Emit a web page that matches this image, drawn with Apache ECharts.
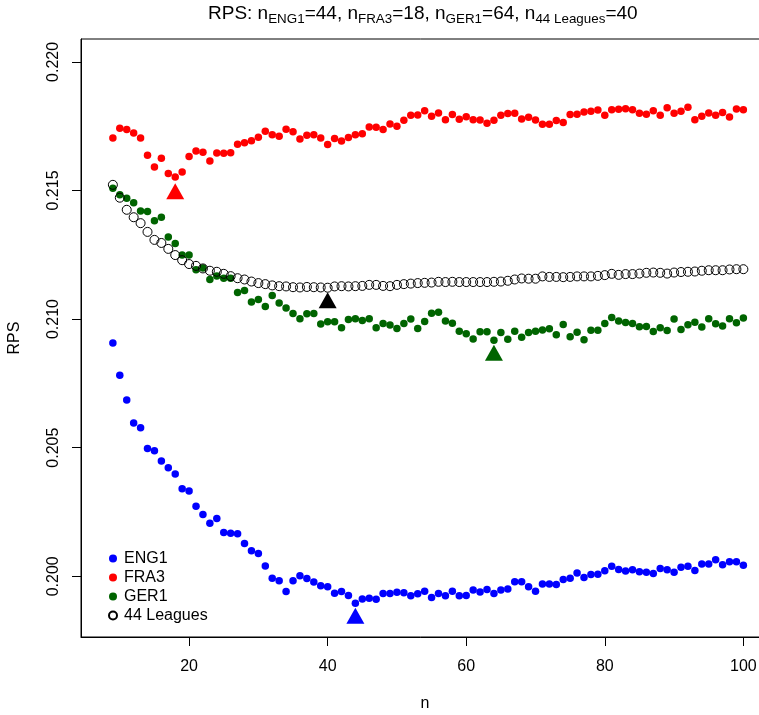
<!DOCTYPE html>
<html>
<head>
<meta charset="utf-8">
<script src="https://cdn.jsdelivr.net/npm/echarts@6/dist/echarts.min.js"></script>
<style>
  html, body { margin: 0; padding: 0; background: #fff; }
  #container { width: 759px; height: 715px; }
</style>
</head>
<body>
<div id="container"></div>
<script>
/* sample sizes n */
var nValues = [9,10,11,12,13,14,15,16,17,18,19,20,21,22,23,24,25,26,27,28,29,30,
  31,32,33,34,35,36,37,38,39,40,41,42,43,44,45,46,47,48,49,50,51,52,53,54,55,56,57,58,59,60,
  61,62,63,64,65,66,67,68,69,70,71,72,73,74,75,76,77,78,79,80,81,82,83,84,85,86,87,88,89,90,
  91,92,93,94,95,96,97,98,99,100];

var eng1 = [
  0.20907,0.20782,0.20685,0.20596,0.20578,0.20497,0.20488,0.20448,0.20422,0.20398,
  0.20340,0.20332,0.20272,0.20240,0.20206,0.20225,0.20170,0.20167,0.20165,0.20128,
  0.20099,0.20089,0.20040,0.19992,0.19983,0.19941,0.19983,0.20002,0.19991,0.19978,
  0.19963,0.19959,0.19934,0.19941,0.19925,0.19895,0.19912,0.19915,0.19911,0.19933,
  0.19933,0.19938,0.19936,0.19924,0.19932,0.19942,0.19918,0.19933,0.19924,0.19942,
  0.19924,0.19925,0.19947,0.19939,0.19949,0.19933,0.19947,0.19951,0.19979,0.19979,
  0.19959,0.19942,0.19970,0.19970,0.19968,0.19988,0.19992,0.20013,0.19995,0.20007,
  0.20008,0.20022,0.20039,0.20026,0.20021,0.20025,0.20018,0.20016,0.20011,0.20030,
  0.20025,0.20016,0.20035,0.20039,0.20023,0.20048,0.20048,0.20064,0.20045,0.20057,
  0.20057,0.20043];

var fra3 = [
  0.21704,0.21742,0.21737,0.21724,0.21704,0.21637,0.21591,0.21625,0.21566,0.21552,
  0.21572,0.21632,0.21654,0.21649,0.21615,0.21646,0.21645,0.21647,0.21680,0.21686,
  0.21693,0.21707,0.21730,0.21717,0.21711,0.21738,0.21728,0.21700,0.21715,0.21717,
  0.21704,0.21679,0.21702,0.21692,0.21706,0.21717,0.21721,0.21747,0.21746,0.21737,
  0.21759,0.21750,0.21773,0.21793,0.21794,0.21810,0.21789,0.21801,0.21775,0.21795,
  0.21777,0.21787,0.21775,0.21774,0.21761,0.21773,0.21793,0.21799,0.21800,0.21778,
  0.21785,0.21774,0.21758,0.21758,0.21772,0.21764,0.21795,0.21796,0.21805,0.21808,
  0.21813,0.21793,0.21814,0.21816,0.21818,0.21814,0.21800,0.21796,0.21810,0.21793,
  0.21822,0.21800,0.21808,0.21824,0.21775,0.21789,0.21801,0.21793,0.21803,0.21786,
  0.21817,0.21814];

var ger1 = [
  0.21509,0.21483,0.21470,0.21452,0.21420,0.21418,0.21382,0.21396,0.21319,0.21294,
  0.21249,0.21249,0.21192,0.21199,0.21154,0.21168,0.21159,0.21159,0.21103,0.21111,
  0.21066,0.21076,0.21049,0.21092,0.21063,0.21043,0.21022,0.21001,0.21021,0.21022,
  0.20981,0.20990,0.20990,0.20966,0.20998,0.21001,0.20995,0.21001,0.20966,0.20983,
  0.20977,0.20963,0.20983,0.21000,0.20963,0.20991,0.21023,0.21027,0.20993,0.20984,
  0.20953,0.20943,0.20923,0.20951,0.20951,0.20918,0.20948,0.20922,0.20953,0.20929,
  0.20948,0.20953,0.20958,0.20962,0.20939,0.20979,0.20931,0.20949,0.20920,0.20957,
  0.20957,0.20983,0.21006,0.20993,0.20987,0.20983,0.20970,0.20971,0.20952,0.20966,
  0.20956,0.21000,0.20960,0.20978,0.20988,0.20969,0.21001,0.20982,0.20973,0.21001,
  0.20986,0.21004];

var leagues44 = [
  0.21522,0.21472,0.21425,0.21396,0.21373,0.21339,0.21308,0.21296,0.21273,0.21249,
  0.21229,0.21214,0.21207,0.21197,0.21188,0.21184,0.21176,0.21167,0.21159,0.21154,
  0.21146,0.21140,0.21136,0.21131,0.21128,0.21127,0.21124,0.21123,0.21125,0.21124,
  0.21123,0.21122,0.21127,0.21128,0.21127,0.21128,0.21129,0.21133,0.21133,0.21129,
  0.21128,0.21133,0.21136,0.21138,0.21140,0.21141,0.21142,0.21145,0.21144,0.21145,
  0.21144,0.21144,0.21144,0.21144,0.21144,0.21145,0.21146,0.21149,0.21154,0.21158,
  0.21157,0.21157,0.21166,0.21164,0.21164,0.21163,0.21164,0.21166,0.21166,0.21166,
  0.21168,0.21171,0.21176,0.21172,0.21175,0.21175,0.21177,0.21180,0.21181,0.21180,
  0.21177,0.21181,0.21183,0.21184,0.21185,0.21188,0.21190,0.21190,0.21190,0.21193,
  0.21194,0.21194];

/* optimal n markers (triangles), order: ENG1, FRA3, GER1, 44 Leagues */
var optNames = ['ENG1', 'FRA3', 'GER1', '44 Leagues'];
var optN = [44, 18, 64, 40];
var optY = [0.19847, 0.21497, 0.20869, 0.21073];

var xTicks = [20, 40, 60, 80, 100];
var yTicks = [0.200, 0.205, 0.210, 0.215, 0.220];

var colors = { 'ENG1': '#0000ff', 'FRA3': '#ff0000', 'GER1': '#006400', '44 Leagues': '#000000' };

function pairs(ys) {
  return nValues.map(function (n, i) { return [n, ys[i]]; });
}

var dom = document.getElementById('container');
var myChart = echarts.init(dom, null, { renderer: 'canvas' });
var font = 'Liberation Sans, Arial, Helvetica, sans-serif';

var filledSeries = function (name, ys) {
  return {
    name: name,
    type: 'scatter',
    data: pairs(ys),
    symbol: 'circle',
    symbolSize: 7.5,
    itemStyle: { color: colors[name], opacity: 1 },
    emphasis: { disabled: true },
    silent: true
  };
};

var series = [
  filledSeries('ENG1', eng1),
  filledSeries('FRA3', fra3),
  filledSeries('GER1', ger1),
  {
    name: '44 Leagues',
    type: 'scatter',
    data: pairs(leagues44),
    symbol: 'circle',
    symbolSize: 9,
    itemStyle: { color: 'rgba(255,255,255,0)', borderColor: '#000', borderWidth: 1, opacity: 1 },
    emphasis: { disabled: true },
    silent: true
  }
];

optNames.forEach(function (name, i) {
  series.push({
    name: name + ' opt',
    type: 'scatter',
    data: [[optN[i], optY[i]]],
    symbol: 'triangle',
    symbolSize: [18, 16],
    itemStyle: { color: colors[name], opacity: 1 },
    emphasis: { disabled: true },
    silent: true
  });
});

var option = {
  animation: false,
  backgroundColor: '#fff',
  textStyle: { fontFamily: font, color: '#000' },
  title: {
    left: 208,
    top: 2,
    padding: 0,
    text: '{m|RPS: n}{s|ENG1}{m|=44, n}{s|FRA3}{m|=18, n}{s|GER1}{m|=64, n}{s|44 Leagues}{m|=40}',
    textStyle: {
      fontWeight: 'normal',
      rich: {
        m: { fontFamily: font, fontSize: 19, fontWeight: 'normal', color: '#000', lineHeight: 24 },
        s: { fontFamily: font, fontSize: 13.4, fontWeight: 'normal', color: '#000', lineHeight: 11, verticalAlign: 'bottom' }
      }
    }
  },
  legend: {
    left: 103,
    top: 544,
    orient: 'vertical',
    itemWidth: 8,
    itemHeight: 8,
    itemGap: 0,
    selectedMode: false,
    textStyle: { fontFamily: font, fontSize: 16, color: '#000', lineHeight: 19, padding: [0, 0, 0, 2] },
    data: [
      { name: 'ENG1', icon: 'circle' },
      { name: 'FRA3', icon: 'circle' },
      { name: 'GER1', icon: 'circle' },
      { name: '44 Leagues', icon: 'circle' }
    ]
  },
  grid: {
    show: true,
    left: 81,
    top: 39,
    right: -10,
    bottom: 78,
    outerBoundsMode: 'none',
    containLabel: false,
    borderColor: '#000',
    borderWidth: 1,
    backgroundColor: 'transparent'
  },
  xAxis: {
    type: 'value',
    min: 4.4,
    max: 103.7,
    name: 'n',
    nameLocation: 'middle',
    nameGap: 59,
    nameTextStyle: { fontFamily: font, fontSize: 16, color: '#000' },
    splitLine: { show: false },
    axisLine: { show: true, onZero: false, lineStyle: { color: '#000', width: 1 } },
    axisTick: { show: true, length: 9, customValues: xTicks, lineStyle: { color: '#000' } },
    axisLabel: { customValues: xTicks, margin: 22, fontFamily: font, fontSize: 16, color: '#000' }
  },
  yAxis: {
    type: 'value',
    min: 0.19764,
    max: 0.22089,
    name: 'RPS',
    nameLocation: 'middle',
    nameGap: 58,
    nameTextStyle: { fontFamily: font, fontSize: 16, color: '#000' },
    splitLine: { show: false },
    axisLine: { show: true, onZero: false, lineStyle: { color: '#000', width: 1 } },
    axisTick: { show: true, length: 9, customValues: yTicks, lineStyle: { color: '#000' } },
    axisLabel: {
      customValues: yTicks,
      rotate: 90,
      margin: 19,
      fontFamily: font,
      fontSize: 16,
      color: '#000',
      formatter: function (v) { return v.toFixed(3); }
    }
  },
  series: series
};

myChart.setOption(option);
</script>
</body>
</html>
